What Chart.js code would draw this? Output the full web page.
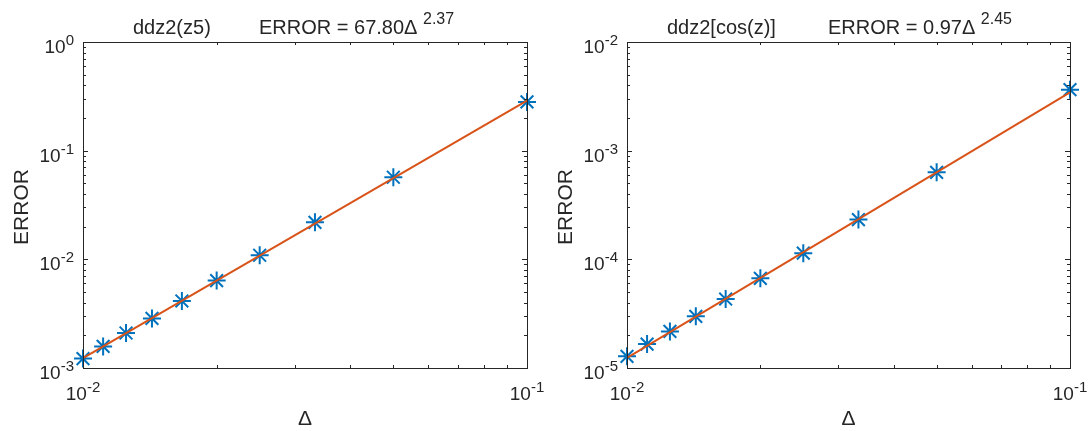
<!DOCTYPE html>
<html>
<head>
<meta charset="utf-8">
<script src="https://cdn.jsdelivr.net/npm/chart.js@4"></script>
<style>
  body { margin: 0; background: #fff; }
  #wrap { position: relative; width: 1089px; height: 431px; }
  canvas { position: absolute; top: 0; }
</style>
</head>
<body>
<div id="wrap">
  <canvas id="chart1" width="545" height="431" style="left:0px"></canvas>
  <canvas id="chart2" width="544" height="431" style="left:545px"></canvas>
</div>
<script>
// grid spacing values (Delta)
let deltas = [0.01, 0.0111, 0.0125, 0.0143, 0.0167, 0.02, 0.025, 0.0333, 0.05, 0.1];
// measured errors
let errZ5 = [1.22e-3, 1.58e-3, 2.10e-3, 2.86e-3, 4.14e-3, 6.37e-3, 1.09e-2, 2.19e-2, 5.69e-2, 0.281];
let errCos = [1.28e-5, 1.66e-5, 2.17e-5, 2.99e-5, 4.31e-5, 6.68e-5, 1.14e-4, 2.32e-4, 6.32e-4, 3.64e-3];
// fitted power law, read at the two ends
let fitDelta = [0.01, 0.1];
let fitZ5 = [1.23e-3, 0.289];
let fitCos = [1.24e-5, 3.44e-3];

let xDecades = [-2, -1];
let yDecadesZ5 = [-3, -2, -1, 0];
let yDecadesCos = [-5, -4, -3, -2];

const FONT = '"Liberation Sans", Arial, Helvetica, sans-serif';
const INK = '#262626';

function pts(xs, ys) {
  return xs.map((x, i) => ({ x: x, y: ys[i] }));
}

// draws "10" with a raised exponent
function powLabel(ctx, exp, x, y, align) {
  ctx.font = '19px ' + FONT;
  let wb = ctx.measureText('10').width;
  ctx.font = '15px ' + FONT;
  let we = ctx.measureText(String(exp)).width;
  let x0 = align === 'right' ? x - wb - we : x - (wb + we) / 2;
  ctx.textAlign = 'left';
  ctx.textBaseline = 'alphabetic';
  ctx.font = '19px ' + FONT;
  ctx.fillText('10', x0, y);
  ctx.font = '15px ' + FONT;
  ctx.fillText(String(exp), x0 + wb, y - 8);
}

function decorate(opts) {
  return {
    id: 'matlabAxes',
    afterDraw(chart) {
      const ctx = chart.ctx;
      const a = chart.chartArea;
      const xs = chart.scales.x, ys = chart.scales.y;
      ctx.save();
      ctx.strokeStyle = INK;
      ctx.fillStyle = INK;
      ctx.lineWidth = 1;
      ctx.strokeRect(Math.round(a.left) + 0.5, Math.round(a.top) + 0.5,
        Math.round(a.right - a.left), Math.round(a.bottom - a.top));

      // inward ticks on every side
      ctx.beginPath();
      for (let d = Math.log10(xs.min); d < Math.log10(xs.max); d++) {
        for (let k = 1; k <= 9; k++) {
          let v = k * Math.pow(10, d);
          let px = Math.round(xs.getPixelForValue(v)) + 0.5;
          let len = k === 1 ? 5 : 3;
          ctx.moveTo(px, a.bottom); ctx.lineTo(px, a.bottom - len);
          ctx.moveTo(px, a.top); ctx.lineTo(px, a.top + len);
        }
      }
      for (let d = Math.round(Math.log10(ys.min)); d < Math.round(Math.log10(ys.max)); d++) {
        for (let k = 1; k <= 9; k++) {
          let v = k * Math.pow(10, d);
          let py = Math.round(ys.getPixelForValue(v)) + 0.5;
          let len = k === 1 ? 5 : 3;
          ctx.moveTo(a.left, py); ctx.lineTo(a.left + len, py);
          ctx.moveTo(a.right, py); ctx.lineTo(a.right - len, py);
        }
      }
      ctx.stroke();

      // tick labels
      xDecades.forEach(e => {
        powLabel(ctx, e, xs.getPixelForValue(Math.pow(10, e)), a.bottom + 32, 'center');
      });
      opts.yDecades.forEach(e => {
        powLabel(ctx, e, a.left - 9, ys.getPixelForValue(Math.pow(10, e)) + 11, 'right');
      });

      // axis titles
      ctx.font = '21px ' + FONT;
      ctx.textAlign = 'center';
      ctx.textBaseline = 'alphabetic';
      ctx.fillText('\u0394', (a.left + a.right) / 2, a.bottom + 57);
      ctx.save();
      ctx.translate(a.left - 61, (a.top + a.bottom) / 2 + 2);
      ctx.rotate(-Math.PI / 2);
      ctx.textBaseline = 'middle';
      ctx.fillText('ERROR', 0, 0);
      ctx.restore();

      // title: name, then the fit with a raised exponent
      ctx.textAlign = 'left';
      ctx.font = '20px ' + FONT;
      ctx.fillText(opts.name, a.left + opts.nameAt, 34);
      let fit = 'ERROR = ' + opts.coef + '\u0394';
      let fx = a.left + opts.fitAt;
      ctx.fillText(fit, fx, 34);
      let wf = ctx.measureText(fit + ' ').width;
      ctx.font = '16px ' + FONT;
      ctx.fillText(opts.power, fx + wf, 24);
      ctx.restore();
    }
  };
}

function makeChart(id, errs, fit, yMin, yMax, pad, opts) {
  return new Chart(id, {
    type: 'scatter',
    data: {
      datasets: [{
        data: pts(fitDelta, fit),
        showLine: true,
        borderColor: '#D95319',
        borderWidth: 2,
        pointRadius: 0,
        clip: false,
        order: 0
      }, {
        data: pts(deltas, errs),
        showLine: false,
        pointStyle: 'star',
        pointRadius: 9,
        borderColor: '#0072BD',
        backgroundColor: '#0072BD',
        borderWidth: 2,
        clip: false,
        order: 1
      }]
    },
    options: {
      responsive: false,
      animation: false,
      devicePixelRatio: 1,
      layout: { padding: pad },
      plugins: { legend: { display: false }, tooltip: { enabled: false } },
      scales: {
        x: { type: 'logarithmic', min: 0.01, max: 0.1, display: false },
        y: { type: 'logarithmic', min: yMin, max: yMax, display: false }
      }
    },
    plugins: [decorate(opts)]
  });
}

makeChart('chart1', errZ5, fitZ5, 1e-3, 1,
  { left: 83, right: 18, top: 42, bottom: 63 },
  { name: 'ddz2(z5)', coef: '67.80', power: '2.37', yDecades: yDecadesZ5, nameAt: 50, fitAt: 176 });

makeChart('chart2', errCos, fitCos, 1e-5, 1e-2,
  { left: 82, right: 19, top: 42, bottom: 63 },
  { name: 'ddz2[cos(z)]', coef: '0.97', power: '2.45', yDecades: yDecadesCos, nameAt: 40, fitAt: 201 });
</script>
</body>
</html>
